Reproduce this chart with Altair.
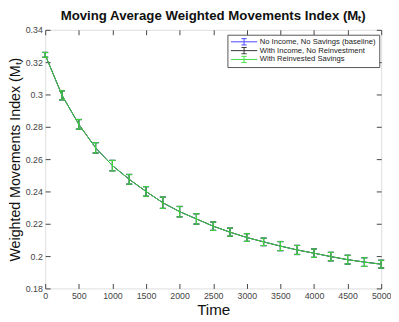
import altair as alt
import pandas as pd

times = [0, 250, 500, 750, 1000, 1250, 1500, 1750, 2000, 2250, 2500,
         2750, 3000, 3250, 3500, 3750, 4000, 4250, 4500, 4750, 5000]
values = [0.3245, 0.2995, 0.2815, 0.2670, 0.2560, 0.2475, 0.2400, 0.2330,
          0.2275, 0.2230, 0.2185, 0.2148, 0.2115, 0.2088, 0.2062, 0.2038,
          0.2018, 0.1997, 0.1978, 0.1963, 0.1950]
errors = [0.0015, 0.0028, 0.0030, 0.0032, 0.0032, 0.0030, 0.0030, 0.0035,
          0.0032, 0.0032, 0.0026, 0.0025, 0.0024, 0.0023, 0.0028, 0.0028,
          0.0026, 0.0026, 0.0027, 0.0027, 0.0024]
series_names = ["No Income, No Savings (baseline)",
                "With Income, No Reinvestment",
                "With Reinvested Savings"]
series_colors = ["#4747ff", "#333333", "#3fdd3f"]
series_opacity = [1.0, 1.0, 0.93]
x_ticks = [0, 500, 1000, 1500, 2000, 2500, 3000, 3500, 4000, 4500, 5000]
y_ticks = [0.18, 0.20, 0.22, 0.24, 0.26, 0.28, 0.30, 0.32, 0.34]

rows = []
for s in series_names:
    for t, v, e in zip(times, values, errors):
        rows.append({"series": s, "time": t, "value": v,
                     "lo": v - e, "hi": v + e})
df = pd.DataFrame(rows)

xscale = alt.Scale(domain=[0, 5000], nice=False, zero=False)
yscale = alt.Scale(domain=[0.18, 0.34], nice=False, zero=False)
cscale = alt.Scale(domain=series_names, range=series_colors)

font = "Liberation Sans"
errglyph = "M-1,0H1M0,-0.24V0.24M-0.2,-0.24H0.2M-0.2,0.24H0.2"

legend = alt.Legend(
    title=None, orient="none", legendX=186, legendY=5,
    symbolType=errglyph, symbolSize=720, symbolStrokeWidth=1,
    symbolFillColor="transparent", clipHeight=8.5, rowPadding=0,
    labelFontSize=7.8, labelFont=font, labelColor="#222222",
    padding=3, strokeColor="#555555", fillColor="white",
    labelOffset=2, labelLimit=200, symbolOffset=0,
)

x_axis = alt.Axis(values=x_ticks, format="d", title="Time",
                  titleFontSize=15.5, titleFont=font,
                  titleFontWeight="normal", titleColor="#111111",
                  titlePadding=3, labelFontSize=9, labelFont=font,
                  labelColor="#444444", labelPadding=3, offset=-5,
                  domain=False, tickSize=5, tickColor="#444444", grid=False,
                  labelFlush=False)
y_axis = alt.Axis(values=y_ticks, format="~g",
                  title="Weighted Movements Index (M\u209c)",
                  titleFontSize=14.5, titleFont=font, titleFontWeight="normal",
                  titleColor="#111111", titlePadding=3, labelFontSize=9,
                  labelFont=font, labelColor="#444444", labelPadding=3,
                  offset=-5, domain=False, tickSize=5, tickColor="#444444",
                  grid=False)

X = alt.X("time:Q", scale=xscale, axis=x_axis)

layers = []
for i, (s, op) in enumerate(zip(series_names, series_opacity)):
    b = alt.Chart(df).transform_filter(alt.datum.series == s)
    col = alt.Color("series:N", scale=cscale, legend=legend)
    line = b.mark_line(strokeWidth=1, opacity=op).encode(
        x=X, y=alt.Y("value:Q", scale=yscale, axis=y_axis), color=col)
    rule = b.mark_rule(strokeWidth=1.2, opacity=op).encode(
        x=X, y=alt.Y("lo:Q", scale=yscale, axis=y_axis), y2="hi:Q",
        color=col)
    cap_lo = b.mark_tick(orient="horizontal", size=6, thickness=1.2,
                         opacity=op).encode(
        x=X, y=alt.Y("lo:Q", scale=yscale, axis=y_axis), color=col)
    cap_hi = b.mark_tick(orient="horizontal", size=6, thickness=1.2,
                         opacity=op).encode(
        x=X, y=alt.Y("hi:Q", scale=yscale, axis=y_axis), color=col)
    layers += [line, rule, cap_lo, cap_hi]

main = alt.layer(*layers)

box = alt.Chart(df).mark_point(opacity=0).encode(
    x=alt.X("time:Q", scale=xscale,
            axis=alt.Axis(orient="top", values=x_ticks, labels=False,
                          title=None, offset=-5, domain=False, tickSize=5,
                          tickColor="#444444", grid=False)),
    y=alt.Y("value:Q", scale=yscale,
            axis=alt.Axis(orient="right", values=y_ticks, labels=False,
                          title=None, offset=-5, domain=False, tickSize=5,
                          tickColor="#444444", grid=False)),
)

chart = alt.layer(main, box).resolve_scale(
    x="independent", y="independent"
).properties(
    width=343, height=264,
    title=alt.TitleParams("Moving Average Weighted Movements Index (M\u209c)",
                          fontSize=13.5, font=font, fontWeight="bold",
                          color="#111111", offset=4),
    autosize=alt.AutoSizeParams(type="none"),
    padding={"left": 38, "top": 19, "right": 10, "bottom": 31},
).configure_view(
    stroke="#444444", strokeWidth=1
).configure(background="white")

chart.save("out.html", embed_options={"renderer": "svg", "actions": False})
